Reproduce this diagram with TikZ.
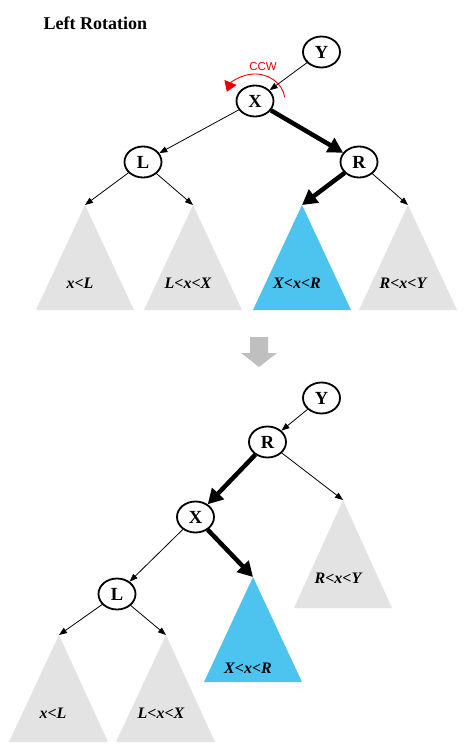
\documentclass[tikz,border=0pt]{standalone}
\usepackage{fontspec}
\setmainfont{Liberation Serif}
\newfontfamily\labelsans{Liberation Sans}
\usetikzlibrary{arrows.meta,shapes.geometric}

\definecolor{subgray}{RGB}{227,227,227}
\definecolor{hiblue}{RGB}{77,196,240}
\definecolor{ccwred}{RGB}{235,0,0}
\definecolor{stepgray}{RGB}{191,191,191}

\tikzset{
  keynode/.style={ellipse, draw, line width=1.8pt, minimum width=37pt,
    minimum height=31pt, inner sep=0pt, fill=white,
    font=\fontsize{18.5}{18.5}\selectfont\bfseries},
  thin link/.style={-{Triangle[length=8pt,width=6pt]}, line width=0.8pt},
  thick link/.style={-{Triangle[length=15pt,width=16pt]}, line width=4.5pt},
  subtree/.style={fill=subgray},
  hot subtree/.style={fill=hiblue},
  rangelabel/.style={font=\fontsize{16}{16}\selectfont\bfseries\itshape},
}

\begin{document}
\begin{tikzpicture}[x=1pt,y=-1pt]
\useasboundingbox (0,0) rectangle (470,754);

% heading
\node[anchor=west, font=\fontsize{18}{18}\selectfont\bfseries] (title) at (40,23) {Left Rotation};

% ---------- before the rotation ----------
\coordinate (a1) at (85,205);
\coordinate (a2) at (193,205);
\coordinate (a3) at (302,205);
\coordinate (a4) at (408,205);
\fill[subtree]     (a1) -- ++(-49,105) -- ++(98,0) -- cycle;
\fill[subtree]     (a2) -- ++(-49,105) -- ++(98,0) -- cycle;
\fill[hot subtree] (a3) -- ++(-49,105) -- ++(98,0) -- cycle;
\fill[subtree]     (a4) -- ++(-49,105) -- ++(98,0) -- cycle;
\node[rangelabel] (r1) at (80,283) {x<L};
\node[rangelabel] (r2) at (188,283) {L<x<X};
\node[rangelabel] (r3) at (297,283) {X<x<R};
\node[rangelabel] (r4) at (403,283) {R<x<Y};

\node[keynode] (Y1) at (321.5,52) {Y};
\node[keynode] (X1) at (255,101) {X};
\node[keynode] (L1) at (143,162) {L};
\node[keynode] (R1) at (359,162) {R};

\draw[thin link]  (Y1) -- (X1);
\draw[thin link]  (X1) -- (L1);
\draw[thick link] (X1) -- (R1);
\draw[thin link]  (L1) -- (a1);
\draw[thin link]  (L1) -- (a2);
\draw[thick link] (R1) -- (a3);
\draw[thin link]  (R1) -- (a4);

% counter-clockwise turn around X (radii in pt, so angles are on the page)
\draw[ccwred, line width=0.9pt, -{Triangle[length=10pt,width=13pt]}]
  (X1.center) ++(8:30pt and 27pt) arc[start angle=8, end angle=160, x radius=30pt, y radius=27pt];
\node[text=ccwred, font=\labelsans\fontsize{11.5}{11.5}\selectfont] (ccw) at (263,67) {CCW};

% step arrow
\fill[stepgray] (250,337) -- (268,337) -- (268,353) -- (277,353) -- (259,367)
  -- (241,353) -- (250,353) -- cycle;

% ---------- after the rotation ----------
\coordinate (b1) at (59,635);
\coordinate (b2) at (166,635);
\coordinate (b3) at (253,577);
\coordinate (b4) at (343,500);
\fill[subtree]     (b1) -- ++(-50,107) -- ++(99,0) -- cycle;
\fill[subtree]     (b2) -- ++(-50,107) -- ++(99,0) -- cycle;
\fill[hot subtree] (b3) -- ++(-49,105) -- ++(98,0) -- cycle;
\fill[subtree]     (b4) -- ++(-49,108) -- ++(98,0) -- cycle;
\node[rangelabel] (s1) at (53,713) {x<L};
\node[rangelabel] (s2) at (161,713) {L<x<X};
\node[rangelabel] (s3) at (248,668) {X<x<R};
\node[rangelabel] (s4) at (338,578) {R<x<Y};

\node[keynode] (Y2) at (321.5,398) {Y};
\node[keynode] (R2) at (267.5,442) {R};
\node[keynode] (X2) at (195.5,517) {X};
\node[keynode] (L2) at (117,594) {L};

\draw[thin link]  (Y2) -- (R2);
\draw[thick link] (R2) -- (X2);
\draw[thin link]  (R2) -- (b4);
\draw[thin link]  (X2) -- (L2);
\draw[thick link] (X2) -- (b3);
\draw[thin link]  (L2) -- (b1);
\draw[thin link]  (L2) -- (b2);
\end{tikzpicture}
\end{document}
